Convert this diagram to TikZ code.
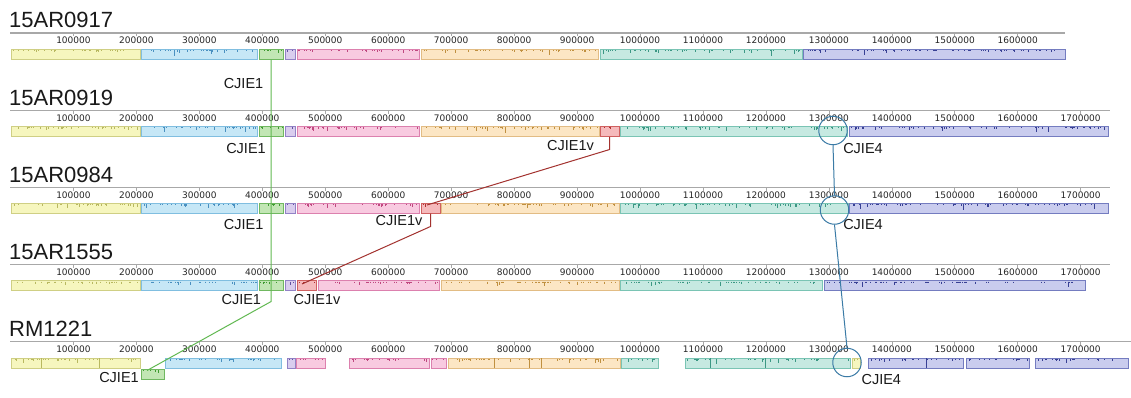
\documentclass[tikz,border=0pt]{standalone}
\usepackage{fontspec}
\setmainfont{Liberation Sans}
\newfontfamily\tickfont{DejaVu Sans}
\usetikzlibrary{fit}
\definecolor{yelF}{HTML}{F6F6BE}\definecolor{yelD}{HTML}{CFCF84}\definecolor{yelP}{HTML}{B8B860}
\definecolor{bluF}{HTML}{C6E7F6}\definecolor{bluD}{HTML}{80BEE0}\definecolor{bluP}{HTML}{4A90C0}
\definecolor{grnF}{HTML}{C2E6B4}\definecolor{grnD}{HTML}{70B860}\definecolor{grnP}{HTML}{3E9A30}
\definecolor{purF}{HTML}{D9CDEE}\definecolor{purD}{HTML}{9282C6}\definecolor{purP}{HTML}{6050A0}
\definecolor{pnkF}{HTML}{F8CAE0}\definecolor{pnkD}{HTML}{DC80AE}\definecolor{pnkP}{HTML}{C04880}
\definecolor{orgF}{HTML}{FCE6C4}\definecolor{orgD}{HTML}{E2BC84}\definecolor{orgP}{HTML}{C09040}
\definecolor{teaF}{HTML}{C6E9E1}\definecolor{teaD}{HTML}{7AC4B4}\definecolor{teaP}{HTML}{3C9884}
\definecolor{navF}{HTML}{C9CCEE}\definecolor{navD}{HTML}{747CC0}\definecolor{navP}{HTML}{384094}
\definecolor{redF}{HTML}{F5B9BB}\definecolor{redD}{HTML}{D06060}\definecolor{redP}{HTML}{B03030}
\definecolor{lnG}{HTML}{62B952}\definecolor{lnR}{HTML}{A3322F}\definecolor{lnB}{HTML}{3B7BA6}
\definecolor{axG}{HTML}{A8A8A8}
\newcommand\blk[5]{%
  \node[fit={(#2,#4) (#3,#4+10)}, inner sep=0pt, draw=#5D, fill=#5F, line width=0.7pt] (#1) {};
  \pgfmathtruncatemacro\nn{max(2,(#3-#2)/4)}%
  \foreach \i in {1,...,\nn}{%
    \pgfmathsetmacro\xx{#2+1.2+rnd*(#3-#2-2.4)}%
    \pgfmathsetmacro\hh{0.6+rnd*rnd*rnd*6}%
    \draw[#5P, line width=0.5pt] (\xx,#4+0.9) -- (\xx,#4+0.9+\hh);
  }%
}
\newcommand\axisrow[3]{%
  \draw[axG, line width=1.2pt] (10,#1) -- (#2,#1);
  \foreach \k in {1,...,#3}{%
    \draw[axG, line width=0.6pt] ({10.5+62.95*\k},#1) -- ++(0,3.5);
    \node[ticklab] at ({10.5+62.95*\k},#1+7.6) {\k00000};
  }%
}
\begin{document}
\begin{tikzpicture}[x=1pt,y=-1pt,
  ticklab/.style={inner sep=0pt, font=\tickfont\fontsize{9}{11}\selectfont, text=black!85},
  title/.style={inner sep=0pt, anchor=base west, font=\fontsize{22}{26}\selectfont, text=black!90},
  lab/.style={inner sep=0pt, font=\fontsize{14.5}{17}\selectfont, text=black!90},
  circ/.style={circle, draw=lnB, line width=1pt, minimum size=28.5pt, inner sep=0pt},
  gline/.style={lnG, line width=1pt},
  rline/.style={lnR, line width=1pt},
  bline/.style={lnB, line width=1pt}]
\fill[white] (0,0) rectangle (1131,398);
\useasboundingbox (0,0) rectangle (1131,398);
\pgfmathsetseed{11}
% titles
\node[title] (T1) at (9,28) {15AR0917};
\node[title] (T2) at (9,105.2) {15AR0919};
\node[title] (T3) at (9,182.4) {15AR0984};
\node[title] (T4) at (9,259.6) {15AR1555};
\node[title] (T5) at (9,336.8) {RM1221};
% axes
\axisrow{33}{1065}{16}
\axisrow{110.2}{1110}{17}
\axisrow{187.4}{1110}{17}
\axisrow{264.6}{1110}{17}
\axisrow{341.8}{1131}{17}
% row 1
\blk{y1}{11.7}{140}{49}{yel}
\blk{b1}{141.3}{257.3}{49}{blu}
\blk{g1}{259}{283.3}{49}{grn}
\blk{p1}{285.3}{295.7}{49}{pur}
\blk{k1}{297.3}{419.3}{49}{pnk}
\blk{o1}{421}{598.7}{49}{org}
\blk{t1}{600}{802.3}{49}{tea}
\blk{n1}{803.7}{1065}{49}{nav}
% row 2
\blk{y2}{11.7}{140}{126.5}{yel}
\blk{b2}{141.3}{257.3}{126.5}{blu}
\blk{g2}{259}{283.3}{126.5}{grn}
\blk{p2}{285.3}{295.7}{126.5}{pur}
\blk{k2}{297.3}{419}{126.5}{pnk}
\blk{o2}{421}{599}{126.5}{org}
\blk{r2}{600.3}{619}{126.5}{red}
\blk{t2}{620.7}{847.7}{126.5}{tea}
\blk{n2}{849}{1108}{126.5}{nav}
% row 3
\blk{y3}{11.7}{140}{203.3}{yel}
\blk{b3}{141.3}{257.3}{203.3}{blu}
\blk{g3}{259}{283.3}{203.3}{grn}
\blk{p3}{285.3}{295.7}{203.3}{pur}
\blk{k3}{297.3}{419}{203.3}{pnk}
\blk{r3}{421}{440}{203.3}{red}
\blk{o3}{441.7}{619.3}{203.3}{org}
\blk{t3}{620.7}{848}{203.3}{tea}
\blk{n3}{849.5}{1108.3}{203.3}{nav}
% row 4
\blk{y4}{11.7}{140}{280.6}{yel}
\blk{b4}{141.3}{257.3}{280.6}{blu}
\blk{g4}{259}{283.3}{280.6}{grn}
\blk{p4}{285.3}{295.7}{280.6}{pur}
\blk{r4}{297.3}{316.7}{280.6}{red}
\blk{k4}{318.3}{439.3}{280.6}{pnk}
\blk{o4}{441.7}{619}{280.6}{org}
\blk{t4}{620.7}{822.7}{280.6}{tea}
\blk{n4}{824.3}{1085.7}{280.6}{nav}
% row 5
\blk{y5}{11.7}{140}{358}{yel}
\blk{g5}{141.7}{164}{369.3}{grn}
\blk{b5}{165.7}{281}{358}{blu}
\blk{p5}{287.3}{295}{358}{pur}
\blk{k5a}{296.7}{325}{358}{pnk}
\blk{k5b}{349.3}{429}{358}{pnk}
\blk{k5c}{431}{446.7}{358}{pnk}
\blk{o5}{448.3}{620}{358}{org}
\blk{t5a}{621.7}{658.3}{358}{tea}
\blk{t5b}{685}{850}{358}{tea}
\blk{y5b}{852.3}{860}{358}{yel}
\blk{n5a}{868.3}{963.3}{358}{nav}
\blk{n5b}{966.7}{1029.3}{358}{nav}
\blk{n5c}{1035}{1128.3}{358}{nav}
% internal dividers in RM1221
\foreach \xd/\cc in {41.7/yelP,99.3/yelP,494/orgP,529/orgP,541.7/orgP,710/teaP,765/teaP,926.7/navP}
  \draw[\cc, line width=0.6pt] (\xd,358) -- (\xd,368);
% connectors
\coordinate (gb) at (271.15,301.5);
\coordinate (g5e) at (147,370.5);
\draw[gline] (g1.south) -- (gb) -- (g5e);
\coordinate (rb2) at (609.65,149.5);
\coordinate (re3) at (427,205);
\draw[rline] (r2.south) -- (rb2) -- (re3);
\coordinate (rb3) at (430.5,226.5);
\coordinate (re4) at (302,284);
\draw[rline] (r3.south) -- (rb3) -- (re4);
% circles
\node[circ] (c2) at (833,130.5) {};
\node[circ] (c3) at (834.5,210) {};
\node[circ] (c5) at (847,362.5) {};
\draw[bline] (c2.south) -- (c3.north);
\draw[bline] (c3.south) -- (c5.north);
% labels
\node[lab] (L1) at (243.5,83.3) {CJIE1};
\node[lab] (L2a) at (246,148.5) {CJIE1};
\node[lab] (L2b) at (570.5,146) {CJIE1v};
\node[lab] (L2c) at (863,148.5) {CJIE4};
\node[lab] (L3a) at (243.7,225) {CJIE1};
\node[lab] (L3b) at (399,221) {CJIE1v};
\node[lab] (L3c) at (863,225) {CJIE4};
\node[lab] (L4a) at (241.3,300) {CJIE1};
\node[lab] (L4b) at (317,300) {CJIE1v};
\node[lab] (L5a) at (119,377.5) {CJIE1};
\node[lab] (L5b) at (881.3,379.5) {CJIE4};
\end{tikzpicture}
\end{document}
